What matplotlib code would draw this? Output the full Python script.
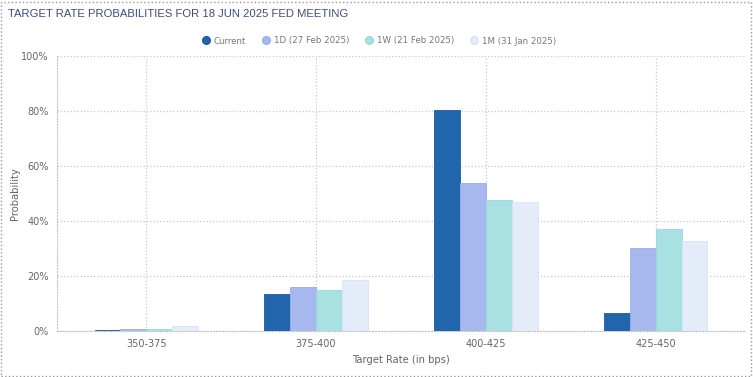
import matplotlib.pyplot as plt
import numpy as np
from matplotlib.lines import Line2D
from matplotlib.patches import Rectangle

categories = ['350-375', '375-400', '400-425', '425-450']
series_names = ['Current', '1D (27 Feb 2025)', '1W (21 Feb 2025)', '1M (31 Jan 2025)']
current = [0.3, 13.5, 80.4, 6.5]
one_day = [0.6, 16.1, 53.8, 30.2]
one_week = [0.8, 14.9, 47.6, 37.1]
one_month = [1.8, 18.5, 46.9, 32.8]
yticks = [0, 20, 40, 60, 80, 100]

colors = ['#2166ac', '#a6b8ee', '#a9e1e3', '#e4ecfa']
edges = ['#1d5a9a', '#98aee8', '#9ad8dc', '#d6e4f8']

fig = plt.figure(figsize=(7.53, 3.77), dpi=100)
ax = fig.add_axes([57 / 753, 46 / 377, 688 / 753, 275 / 377])

x = np.arange(len(categories))
w = 0.152
for i, vals in enumerate([current, one_day, one_week, one_month]):
    ax.bar(x + (i - 1.5) * w, vals, width=w, color=colors[i], edgecolor=edges[i],
           linewidth=0.6, zorder=3)

ax.set_xlim(-0.525, 3.525)
ax.set_ylim(0, 100)
ax.set_xticks(x)
ax.set_xticklabels(categories, fontsize=7, color='#666666')
ax.set_yticks(yticks)
ax.set_yticklabels([f'{t}%' for t in yticks], fontsize=7, color='#666666')
ax.tick_params(length=0, pad=6)
ax.grid(True, color='#c8c8c8', linestyle=':', linewidth=0.9, zorder=0)
for s in ['top', 'right']:
    ax.spines[s].set_visible(False)
ax.spines['left'].set_color('#c8c8c8')
ax.spines['left'].set_linestyle(':')
ax.spines['bottom'].set_color('#c0c0c0')
ax.spines['bottom'].set_linestyle(':')
ax.set_xlabel('Target Rate (in bps)', fontsize=7.2, color='#666666', labelpad=4)
ax.set_ylabel('Probability', fontsize=7.2, color='#666666')
ax.yaxis.set_label_coords(-(57 - 20) / 688, 0.5)

fig.text(8 / 753, 1 - 14 / 377, 'TARGET RATE PROBABILITIES FOR 18 JUN 2025 FED MEETING',
         fontsize=8.1, family='Liberation Sans',
         color='#3f4b80', va='center', ha='left')

handles = [Line2D([], [], marker='o', linestyle='none', markersize=5.5,
                  markerfacecolor=colors[i], markeredgecolor=edges[i])
           for i in range(4)]
fig.legend(handles, series_names, loc='center', bbox_to_anchor=(378 / 753, 1 - 41 / 377),
           ncol=4, frameon=False, fontsize=6.2, labelcolor='#777777',
           handletextpad=0.2, columnspacing=1.6, handlelength=1.4)

fig.patches.append(Rectangle((1 / 753, 1 / 377), 750 / 753, 374 / 377, transform=fig.transFigure,
                             fill=False, edgecolor='#999999', linestyle=':', linewidth=1))

fig.savefig('out.png', dpi=100)
